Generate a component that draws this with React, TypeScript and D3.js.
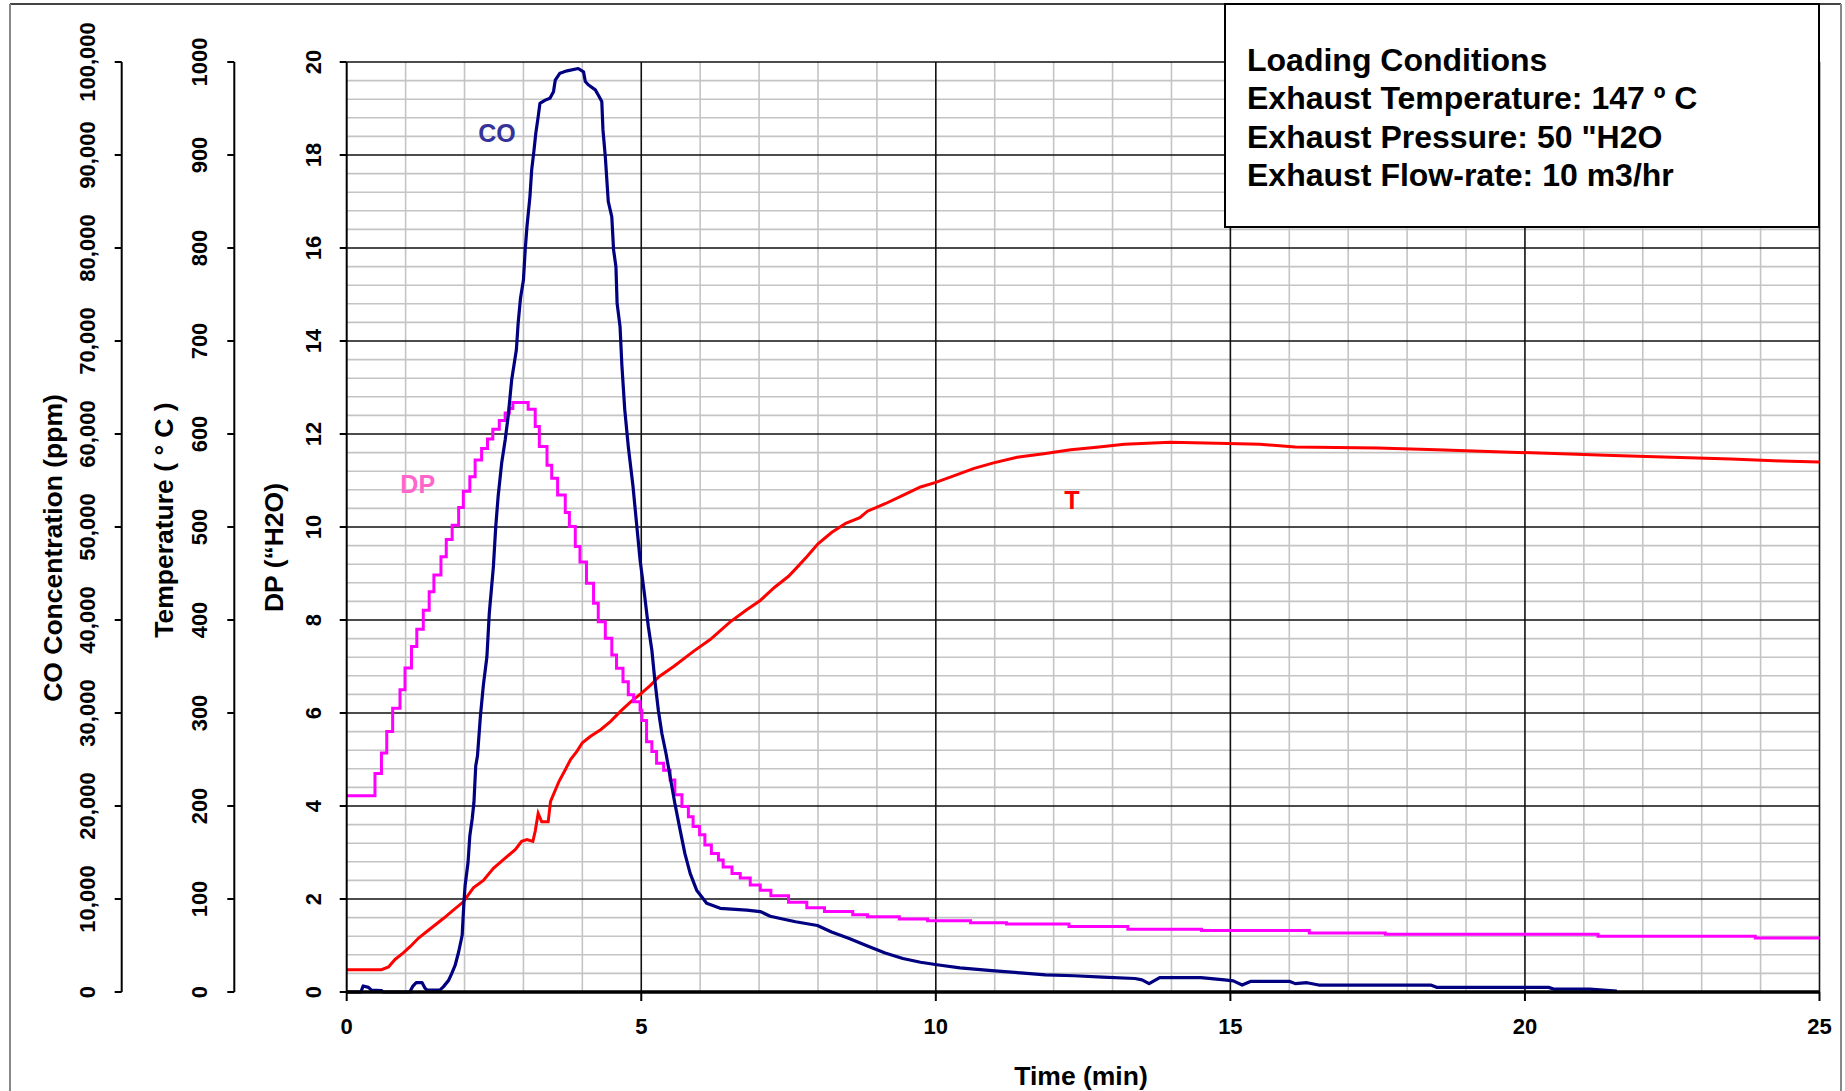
import React from 'react';
import * as d3 from 'd3';

// ---------- data ----------
const dpTime = [0, 0.48, 0.59, 0.68, 0.78, 0.905, 0.99, 1.1, 1.19, 1.3, 1.40, 1.48, 1.60, 1.69, 1.79, 1.90, 1.98, 2.09, 2.18, 2.29, 2.39, 2.48, 2.59, 2.69, 2.76, 2.82, 3.08, 3.20, 3.27, 3.40, 3.48, 3.58, 3.71, 3.78, 3.88, 3.96, 4.07, 4.19, 4.27, 4.39, 4.50, 4.58, 4.69, 4.78, 4.87, 4.98, 5.01, 5.09, 5.18, 5.26, 5.38, 5.49, 5.57, 5.69, 5.80, 5.88, 5.99, 6.08, 6.19, 6.31, 6.39, 6.54, 6.68, 6.85, 7.02, 7.20, 7.50, 7.81, 8.11, 8.59, 8.84, 9.38, 9.86, 10.59, 11.20, 12.26, 13.26, 14.51, 16.34, 17.63, 21.24, 23.91, 25];
const dpValue = [4.22, 4.70, 5.14, 5.6, 6.1, 6.5, 6.97, 7.43, 7.8, 8.21, 8.61, 8.97, 9.36, 9.73, 10.04, 10.42, 10.77, 11.08, 11.44, 11.69, 11.89, 12.10, 12.29, 12.45, 12.55, 12.68, 12.53, 12.16, 11.73, 11.33, 11.05, 10.69, 10.31, 10.01, 9.58, 9.25, 8.79, 8.36, 7.96, 7.61, 7.25, 6.96, 6.67, 6.39, 6.24, 6.06, 5.84, 5.38, 5.17, 4.92, 4.77, 4.56, 4.24, 3.99, 3.77, 3.56, 3.38, 3.16, 2.98, 2.84, 2.69, 2.55, 2.45, 2.30, 2.19, 2.07, 1.93, 1.81, 1.73, 1.66, 1.62, 1.57, 1.53, 1.49, 1.46, 1.41, 1.35, 1.32, 1.27, 1.24, 1.20, 1.16, 1.16];

const tempTime = [0, 0.59, 0.71, 0.82, 0.96, 1.08, 1.22, 1.36, 1.50, 1.64, 1.81, 1.98, 2.15, 2.32, 2.49, 2.69, 2.86, 2.97, 3.06, 3.16, 3.20, 3.25, 3.31, 3.42, 3.46, 3.60, 3.71, 3.80, 3.91, 4.0, 4.14, 4.31, 4.48, 4.65, 4.82, 5.0, 5.16, 5.30, 5.55, 5.88, 6.17, 6.51, 6.79, 7.02, 7.26, 7.50, 7.62, 7.81, 8.0, 8.23, 8.47, 8.71, 8.84, 9.14, 9.44, 9.74, 10.0, 10.35, 10.65, 10.98, 11.38, 11.86, 12.29, 12.77, 13.2, 13.98, 14.77, 15.5, 16.1, 17.5, 18.5, 19.5, 20.5, 21.5, 22.5, 23.5, 24.35, 25];
const tempValue = [24, 24, 27, 35, 42, 49, 58, 65, 72, 79, 88, 97, 112, 120, 133, 144, 153, 162, 164, 162, 173, 192, 183, 183, 205, 226, 239, 250, 259, 268, 275, 282, 291, 302, 312, 321, 330, 339, 350, 366, 379, 398, 411, 421, 435, 447, 455, 468, 482, 494, 504, 510, 517, 525, 534, 543, 548, 556, 563, 569, 575, 579, 583, 586, 589, 591, 590, 589, 586, 585, 583, 581, 579, 577, 575, 573, 571, 570];

const coTime = [0, 0.24, 0.28, 0.37, 0.42, 0.59, 0.62, 1.07, 1.12, 1.18, 1.28, 1.33, 1.37, 1.58, 1.64, 1.73, 1.78, 1.84, 1.90, 1.96, 1.99, 2.01, 2.06, 2.09, 2.13, 2.16, 2.19, 2.22, 2.27, 2.32, 2.38, 2.42, 2.45, 2.49, 2.53, 2.57, 2.63, 2.69, 2.74, 2.80, 2.88, 2.91, 2.95, 3.0, 3.03, 3.06, 3.11, 3.14, 3.18, 3.21, 3.25, 3.28, 3.37, 3.45, 3.51, 3.54, 3.62, 3.74, 3.93, 4.02, 4.05, 4.10, 4.22, 4.27, 4.33, 4.35, 4.39, 4.44, 4.50, 4.53, 4.57, 4.59, 4.64, 4.67, 4.72, 4.78, 4.86, 4.92, 4.98, 5.05, 5.12, 5.18, 5.23, 5.29, 5.35, 5.42, 5.49, 5.57, 5.66, 5.74, 5.83, 5.94, 6.11, 6.34, 6.79, 7.02, 7.19, 7.40, 7.62, 7.99, 8.23, 8.53, 8.84, 9.14, 9.44, 9.74, 10.05, 10.41, 10.95, 11.44, 11.86, 12.35, 12.83, 13.38, 13.5, 13.62, 13.8, 14.5, 14.9, 15.05, 15.2, 15.35, 16.0, 16.1, 16.3, 16.5, 18.4, 18.5, 20.4, 20.5, 21.1, 21.56];
const coValue = [0, 0, 650, 500, 200, 150, 0, 0, 600, 1000, 1000, 400, 200, 200, 550, 1250, 1950, 2850, 4300, 6100, 9650, 11450, 13950, 16800, 18600, 20400, 24300, 25400, 29700, 33000, 36050, 40700, 42850, 45750, 50050, 53250, 56850, 59350, 61850, 65800, 69050, 71900, 74600, 76550, 79800, 82300, 85500, 88400, 90550, 92350, 94100, 95550, 95900, 96100, 96800, 98050, 98800, 99050, 99300, 98950, 97900, 97550, 97000, 96450, 95750, 92700, 89800, 85000, 83350, 79800, 78000, 74050, 71550, 67500, 62600, 58650, 54350, 50400, 46450, 43000, 39300, 36750, 33550, 30300, 27800, 25650, 23150, 20300, 17400, 14900, 12750, 10950, 9550, 9000, 8800, 8650, 8150, 7850, 7550, 7150, 6450, 5750, 4950, 4200, 3600, 3200, 2900, 2600, 2300, 2050, 1850, 1750, 1600, 1450, 1300, 900, 1550, 1550, 1300, 1200, 750, 1150, 1150, 900, 1000, 750, 750, 500, 500, 300, 300, 100];

const xTicks = [0, 5, 10, 15, 20, 25];
const dpTicks = [0, 2, 4, 6, 8, 10, 12, 14, 16, 18, 20];
const tempTicks = [0, 100, 200, 300, 400, 500, 600, 700, 800, 900, 1000];
const coTicks = [0, 10000, 20000, 30000, 40000, 50000, 60000, 70000, 80000, 90000, 100000];

const infoLines = [
  'Loading Conditions',
  'Exhaust Temperature: 147 º C',
  'Exhaust Pressure: 50 "H2O',
  'Exhaust Flow-rate: 10 m3/hr',
];

const FONT = '"Liberation Sans", Arial, Helvetica, sans-serif';

export default function App() {
  const left = 346.7, right = 1819.5, top = 62, bottom = 992;
  const x = d3.scaleLinear().domain([0, 25]).range([left, right]);
  const yDP = d3.scaleLinear().domain([0, 20]).range([bottom, top]);
  const yT = d3.scaleLinear().domain([0, 1000]).range([bottom, top]);
  const yCO = d3.scaleLinear().domain([0, 100000]).range([bottom, top]);

  const dpData = dpTime.map((t, i) => [t, dpValue[i]] as [number, number]);
  const tData = tempTime.map((t, i) => [t, tempValue[i]] as [number, number]);
  const coData = coTime.map((t, i) => [t, coValue[i]] as [number, number]);

  const dpLine = d3.line<[number, number]>().x(d => x(d[0])).y(d => yDP(d[1])).curve(d3.curveStepAfter);
  const tLine = d3.line<[number, number]>().x(d => x(d[0])).y(d => yT(d[1]));
  const coLine = d3.line<[number, number]>().x(d => x(d[0])).y(d => yCO(d[1]));

  const minorX = d3.range(1, 25).filter(v => v % 5 !== 0);
  const majorX = d3.range(5, 26, 5);
  const minorY = d3.range(1, 50).map(i => i * 0.4).filter(v => Math.abs(v / 2 - Math.round(v / 2)) > 1e-6);
  const majorY = d3.range(2, 21, 2);

  const coFmt = d3.format(',');
  const coAxisX = 121.7, tAxisX = 234.3;

  return (
    <svg width={1845} height={1091} style={{ position: 'absolute', left: 0, top: 0, background: '#fff' }} fontFamily={FONT}>
      <rect x={0} y={0} width={1845} height={1091} fill="#fff" />
      {/* outer frame */}
      <line x1={10} y1={4} x2={1841} y2={4} stroke="#444" strokeWidth={2} />
      <line x1={10} y1={4} x2={10} y2={1091} stroke="#888" strokeWidth={2} />
      <line x1={1841} y1={4} x2={1841} y2={1091} stroke="#888" strokeWidth={2} />

      {/* grid */}
      {minorX.map(v => <line key={'mx' + v} x1={x(v)} x2={x(v)} y1={top} y2={bottom} stroke="#c4c4c4" strokeWidth={1.6} />)}
      {minorY.map(v => <line key={'my' + v} x1={left} x2={right} y1={yDP(v)} y2={yDP(v)} stroke="#c4c4c4" strokeWidth={1.6} />)}
      {majorY.map(v => <line key={'My' + v} x1={left} x2={right} y1={yDP(v)} y2={yDP(v)} stroke="#111" strokeWidth={1.6} />)}
      {majorX.map(v => <line key={'Mx' + v} x1={x(v)} x2={x(v)} y1={top} y2={bottom} stroke="#111" strokeWidth={1.6} />)}

      {/* series */}
      <path d={tLine(tData) || ''} fill="none" stroke="#ff0000" strokeWidth={3} />
      <path d={dpLine(dpData) || ''} fill="none" stroke="#ff00ff" strokeWidth={3} />
      <path d={coLine(coData) || ''} fill="none" stroke="#000080" strokeWidth={3.2} strokeLinejoin="round" />

      {/* axes */}
      <line x1={left} x2={left} y1={top} y2={bottom} stroke="#000" strokeWidth={2} />
      <line x1={left} x2={right} y1={bottom} y2={bottom} stroke="#000" strokeWidth={3.5} />
      {xTicks.map(v => (
        <g key={'xt' + v}>
          <line x1={x(v)} x2={x(v)} y1={bottom} y2={bottom + 9} stroke="#000" strokeWidth={2} />
          <text x={x(v)} y={1026} textAnchor="middle" dominantBaseline="central" fontSize={22} fontWeight="bold">{v}</text>
        </g>
      ))}
      <text x={1081} y={1085} textAnchor="middle" fontSize={26.5} fontWeight="bold">Time (min)</text>

      {dpTicks.map(v => (
        <g key={'dt' + v}>
          <line x1={left - 7} x2={left} y1={yDP(v)} y2={yDP(v)} stroke="#000" strokeWidth={2} />
          <text transform={`translate(313.5,${yDP(v)}) rotate(-90)`} textAnchor="middle" dominantBaseline="central" fontSize={22} fontWeight="bold">{v}</text>
        </g>
      ))}
      <text transform={`translate(283,547.5) rotate(-90)`} textAnchor="middle" fontSize={26.5} fontWeight="bold">DP (“H2O)</text>

      <line x1={tAxisX} x2={tAxisX} y1={top} y2={bottom} stroke="#000" strokeWidth={2} />
      {tempTicks.map(v => (
        <g key={'tt' + v}>
          <line x1={tAxisX - 7} x2={tAxisX} y1={yT(v)} y2={yT(v)} stroke="#000" strokeWidth={2} />
          <text transform={`translate(199,${yT(v)}) rotate(-90)`} textAnchor="middle" dominantBaseline="central" fontSize={22} fontWeight="bold">{v}</text>
        </g>
      ))}
      <text transform={`translate(173,520) rotate(-90)`} textAnchor="middle" fontSize={26.5} fontWeight="bold">Temperature ( ° C )</text>

      <line x1={coAxisX} x2={coAxisX} y1={top} y2={bottom} stroke="#000" strokeWidth={2} />
      {coTicks.map(v => (
        <g key={'ct' + v}>
          <line x1={coAxisX - 7} x2={coAxisX} y1={yCO(v)} y2={yCO(v)} stroke="#000" strokeWidth={2} />
          <text transform={`translate(87,${yCO(v)}) rotate(-90)`} textAnchor="middle" dominantBaseline="central" fontSize={22} fontWeight="bold">{coFmt(v)}</text>
        </g>
      ))}
      <text transform={`translate(62,548) rotate(-90)`} textAnchor="middle" fontSize={26.5} fontWeight="bold">CO Concentration (ppm)</text>

      {/* series labels */}
      <text x={x(2.55)} y={yDP(18.28)} textAnchor="middle" fontSize={25} fontWeight="bold" fill="#333399">CO</text>
      <text x={x(1.5)} y={yDP(10.73)} textAnchor="end" fontSize={25} fontWeight="bold" fill="#ff66cc">DP</text>
      <text x={x(12.31)} y={yDP(10.39)} textAnchor="middle" fontSize={25} fontWeight="bold" fill="#ff0000">T</text>

      {/* info box */}
      <rect x={1225} y={4} width={594} height={223} fill="#fff" stroke="#000" strokeWidth={2} />
      {infoLines.map((s, i) => (
        <text key={'il' + i} x={1247} y={70.5 + i * 38.6} fontSize={32} fontWeight="bold">{s}</text>
      ))}
    </svg>
  );
}
